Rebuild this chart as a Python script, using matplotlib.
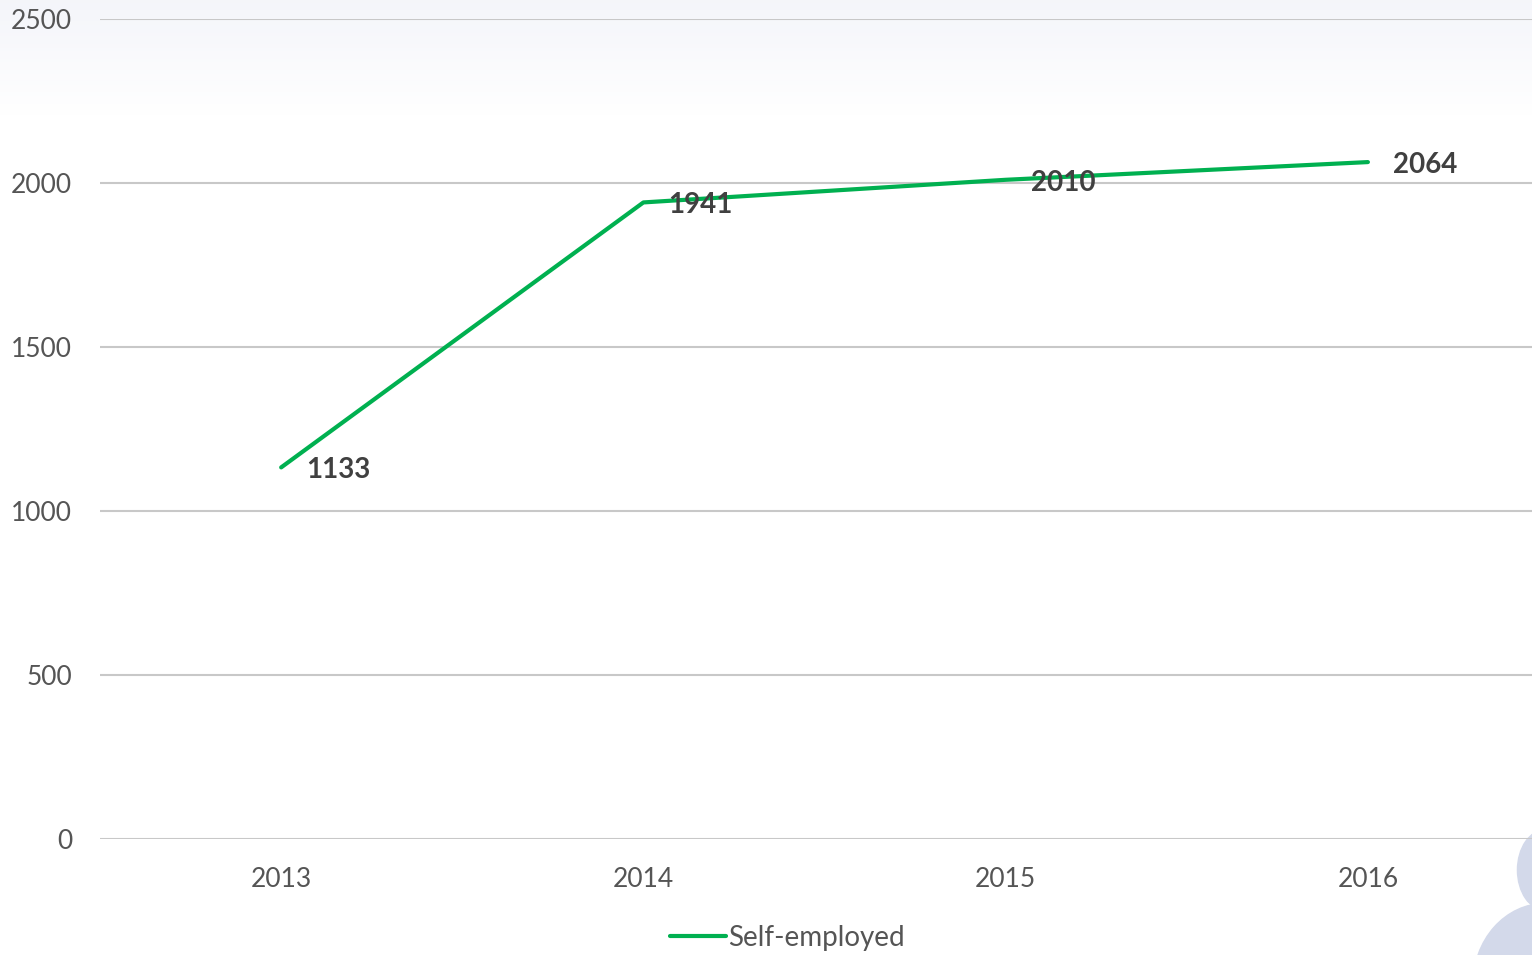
import numpy as np
import matplotlib.pyplot as plt
from matplotlib.patches import Ellipse

years = ['2013', '2014', '2015', '2016']
self_employed = [1133, 1941, 2010, 2064]
y_ticks = [0, 500, 1000, 1500, 2000, 2500]

plt.rcParams['font.family'] = ['Lato', 'DejaVu Sans']

fig = plt.figure(figsize=(15.32, 9.55), dpi=100)

# faint gradient at the top of the picture
bg = fig.add_axes([0, 0, 1, 1], zorder=-5)
grad = np.linspace(0, 1, 256).reshape(-1, 1)
top = np.array([0.957, 0.961, 0.980])
colors = np.ones((256, 1, 3))
fade = np.clip((grad - 0.88) / 0.12, 0, 1)
colors = colors * (1 - fade[..., None]) + top * fade[..., None]
bg.imshow(colors, aspect='auto', origin='lower', extent=[0, 1, 0, 1])
bg.set_xlim(0, 1)
bg.set_ylim(0, 1)
bg.axis('off')

# decorative blobs bottom right
fig.patches.append(Ellipse((1.0085, -0.031), 0.094, 0.17, transform=fig.transFigure,
                           color='#d3d9ea', zorder=-4))
fig.patches.append(Ellipse((1.0085, 0.089), 0.036, 0.084, transform=fig.transFigure,
                           color='#d3d9ea', zorder=-4))

ax = fig.add_axes([0.0653, 0.1215, 0.9347, 0.8585])
ax.patch.set_alpha(0)
x = np.arange(len(years))
ax.plot(x, self_employed, color='#00b050', lw=3, solid_capstyle='round',
        label='Self-employed', zorder=3)
for xi, v in zip(x, self_employed):
    ax.annotate(str(v), (xi, v), xytext=(18, -2), textcoords='offset points',
                ha='left', va='center', fontsize=20, fontweight='bold',
                color='#404040', zorder=4)

ax.set_xlim(-0.5, 3.453)
ax.set_ylim(0, 2500)
ax.set_xticks(x)
ax.set_xticklabels(years)
ax.set_yticks(y_ticks)
ax.grid(axis='y', color='#c8c8c8', lw=1.5)
ax.set_axisbelow(True)
for s in ax.spines.values():
    s.set_visible(False)
ax.tick_params(length=0, labelsize=19, labelcolor='#555555')
ax.tick_params(axis='x', pad=20)
ax.tick_params(axis='y', pad=20)

fig.legend(handles=ax.get_lines(), loc='center', bbox_to_anchor=(0.514, 0.018),
           frameon=False, fontsize=20, labelcolor='#555555', handlelength=2.0,
           handletextpad=0.1)

fig.savefig('out.png', dpi=100)
